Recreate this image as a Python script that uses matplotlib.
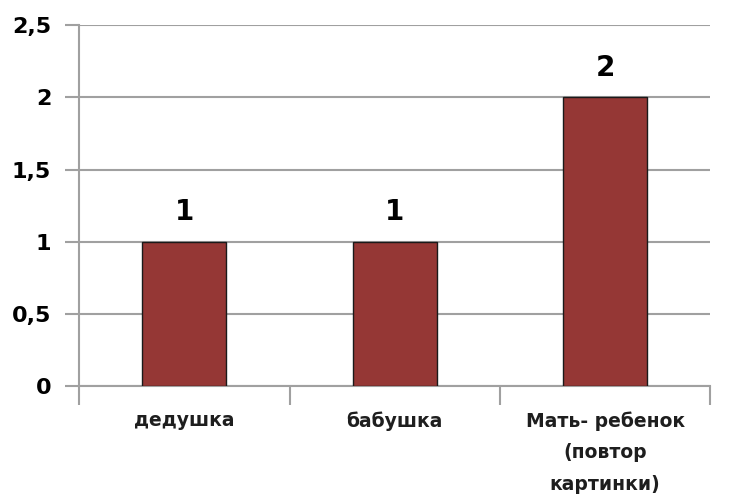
import numpy as np
import matplotlib.pyplot as plt

categories = ["дедушка", "бабушка", "Мать- ребенок\n(повтор\nкартинки)"]
values = [1, 1, 2]
y_ticks = [0, 0.5, 1, 1.5, 2, 2.5]
y_tick_labels = ["0", "0,5", "1", "1,5", "2", "2,5"]

plt.rcParams["font.family"] = ["DejaVu Sans"]

fig = plt.figure(figsize=(7.42, 4.95), dpi=100)
ax = fig.add_axes([0.1065, 0.22, 0.851, 0.729])

x = np.arange(len(categories))
ax.bar(x, values, width=0.4, color="#953735", edgecolor="#1a1a1a", linewidth=1.0, zorder=3)

# подписи значений над столбцами
for xi, v in zip(x, values):
    ax.text(xi, v + 0.11, str(v), ha="center", va="bottom", fontsize=20, fontweight="bold")

ax.set_xlim(-0.5, len(categories) - 0.5)
ax.set_ylim(0, 2.5)
ax.set_yticks(y_ticks)
ax.set_yticklabels(y_tick_labels, fontsize=16, fontweight="bold")
ax.yaxis.grid(True, color="#a0a0a0", linewidth=1.5, zorder=0)
ax.tick_params(axis="y", length=10, width=1.5, color="#a0a0a0", pad=10)

# деления между категориями, подписи по центру
ax.set_xticks(np.arange(-0.5, len(categories), 1.0))
ax.set_xticklabels([])
ax.set_xticks(x, minor=True)
ax.set_xticklabels(categories, minor=True, fontsize=13.5, fontweight="bold", color="#1e1e1e",
                   linespacing=1.85)
ax.tick_params(axis="x", which="major", length=14, width=1.5, color="#a0a0a0")
ax.tick_params(axis="x", which="minor", length=0, pad=18)

for side in ["top", "right"]:
    ax.spines[side].set_visible(False)
ax.spines["left"].set_color("#a0a0a0")
ax.spines["left"].set_linewidth(1.5)
ax.spines["bottom"].set_color("#a0a0a0")
ax.spines["bottom"].set_linewidth(1.5)

fig.savefig("out.png", dpi=100)
